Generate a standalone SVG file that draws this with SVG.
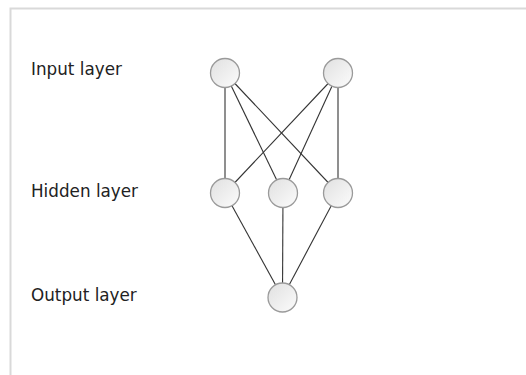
<svg xmlns="http://www.w3.org/2000/svg" width="526" height="375" viewBox="0 0 526 375">
<defs>
<linearGradient id="g" x1="0" y1="0" x2="1" y2="1">
<stop offset="0" stop-color="#e0e0e0"/>
<stop offset="1" stop-color="#fcfcfc"/>
</linearGradient>
<style>
.n{fill:url(#g);stroke:#9a9a9a;stroke-width:1.3}
.e{stroke:#333;stroke-width:1.1;fill:none}
.t{font-family:"DejaVu Sans",sans-serif;font-size:16.8px;fill:#222}
</style>
</defs>
<rect x="0" y="0" width="526" height="375" fill="#fff"/>
<rect x="10.5" y="8.5" width="530" height="380" fill="none" stroke="#d9d9d9" stroke-width="2"/>
<text class="t" x="31" y="75">Input layer</text>
<text class="t" x="31" y="197">Hidden layer</text>
<text class="t" x="31" y="301">Output layer</text>
<g id="edges">
<line class="e" x1="225" y1="73" x2="225" y2="193"/>
<line class="e" x1="225" y1="73" x2="283" y2="193"/>
<line class="e" x1="225" y1="73" x2="338" y2="193"/>
<line class="e" x1="338" y1="73" x2="225" y2="193"/>
<line class="e" x1="338" y1="73" x2="283" y2="193"/>
<line class="e" x1="338" y1="73" x2="338" y2="193"/>
<line class="e" x1="225" y1="193" x2="282.5" y2="297.5"/>
<line class="e" x1="283" y1="193" x2="282.5" y2="297.5"/>
<line class="e" x1="338" y1="193" x2="282.5" y2="297.5"/>
</g>
<g id="in1"><circle class="n" cx="225" cy="73" r="14.5"/></g>
<g id="in2"><circle class="n" cx="338" cy="73" r="14.5"/></g>
<g id="h1"><circle class="n" cx="225" cy="193" r="14.5"/></g>
<g id="h2"><circle class="n" cx="283" cy="193" r="14.5"/></g>
<g id="h3"><circle class="n" cx="338" cy="193" r="14.5"/></g>
<g id="out"><circle class="n" cx="282.5" cy="297.5" r="14.5"/></g>
</svg>
